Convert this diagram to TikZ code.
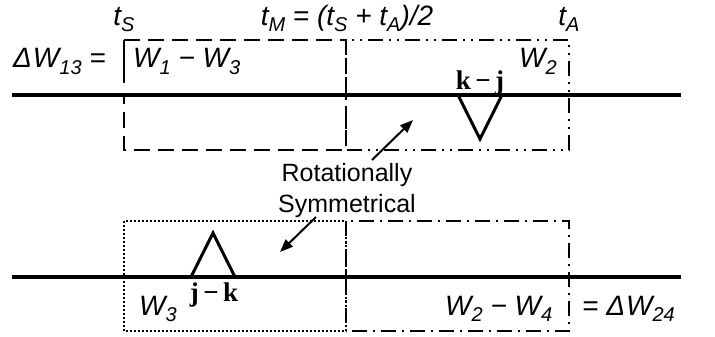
\documentclass[tikz,border=0pt]{standalone}
\usepackage{fontspec}
\setmainfont{Liberation Sans}
\newfontfamily\serifbold{Liberation Serif}
\usetikzlibrary{arrows.meta}
\newcommand{\mn}{\char"2212}
\newcommand{\lowsub}[1]{\raisebox{-6pt}{\fontsize{20}{20}\selectfont #1}}
\tikzset{
  lbl/.style={inner sep=0pt, font=\fontsize{28}{32}\selectfont\itshape},
  bl/.style={inner sep=0pt, font=\fontsize{27}{30}\selectfont\serifbold\bfseries},
  axis/.style={line width=3.5pt},
  tri/.style={line width=3pt, line join=miter},
  boxA/.style={line width=2pt, dash pattern=on 16pt off 8pt},
  boxB/.style={line width=2pt, dash pattern=on 15pt off 6pt on 2pt off 6pt on 2pt off 6pt},
  boxC/.style={line width=2pt, dash pattern=on 2pt off 2pt},
  boxD/.style={line width=2pt, dash pattern=on 15pt off 6pt on 2pt off 6pt},
  arr/.style={line width=2pt, -{Triangle[length=13pt,width=10pt]}},
  note/.style={inner sep=0pt, align=center, font=\fontsize{25}{31}\selectfont}
}
\begin{document}
\begin{tikzpicture}[x=1pt,y=-1pt]
\useasboundingbox (0,0) rectangle (715,337);
% axes
\coordinate (a1l) at (12,95);  \coordinate (a1r) at (681,95);
\coordinate (a2l) at (12,277); \coordinate (a2r) at (681,277);
\draw[axis] (a1l) -- (a1r);
\draw[axis] (a2l) -- (a2r);
% upper boxes
\draw[line width=2pt] (124,83) -- (124,40);
\draw[boxA] (124,40) -- (346,40) -- (346,150) -- (124,150) -- (124,97);
\draw[boxB] (346,40) rectangle (569,150);
% lower boxes
\draw[boxC] (124,221) rectangle (346,331);
\draw[boxD] (346,221) rectangle (569,331);
% triangles
\coordinate (v1) at (458,95); \coordinate (v2) at (480,139); \coordinate (v3) at (502,95);
\draw[tri] (v1) -- (v2) -- (v3);
\coordinate (u1) at (191,277); \coordinate (u2) at (213,233); \coordinate (u3) at (235,277);
\draw[tri] (u1) -- (u2) -- (u3);
% labels
\node[lbl, anchor=base] (ts) at (124,26) {t\lowsub{S}};
\node[lbl, anchor=base] (tm) at (347,26) {t\lowsub{M} = (t\lowsub{S} + t\lowsub{A})/2};
\node[lbl, anchor=base] (ta) at (569,26) {t\lowsub{A}};
\node[lbl, anchor=base west] (d13) at (13,68) {Δ\hspace{1pt}W\lowsub{13} =};
\node[lbl, anchor=base west] (w13) at (133,68) {W\lowsub{1} \mn\ W\lowsub{3}};
\node[lbl, anchor=base west] (w2) at (519,68) {W\lowsub{2}};
\node[bl, anchor=base] (kj) at (480,89) {k\,\mn\,j};
\node[lbl, anchor=base west] (w3) at (139,315) {W\lowsub{3}};
\node[bl, anchor=base] (jk) at (214,301) {j\,\mn\,k};
\node[lbl, anchor=base west] (w24) at (445,315) {W\lowsub{2} \mn\ W\lowsub{4}};
\node[lbl, anchor=base west] (d24) at (582,315) {= Δ\hspace{1pt}W\lowsub{24}};
\node[note] (rs) at (347,191) {Rotationally\\Symmetrical};
% arrows
\coordinate (ar1s) at (372,160); \coordinate (ar1e) at (413,120);
\coordinate (ar2s) at (316,217); \coordinate (ar2e) at (280,252);
\draw[arr] (ar1s) -- (ar1e);
\draw[arr] (ar2s) -- (ar2e);
\end{tikzpicture}
\end{document}
